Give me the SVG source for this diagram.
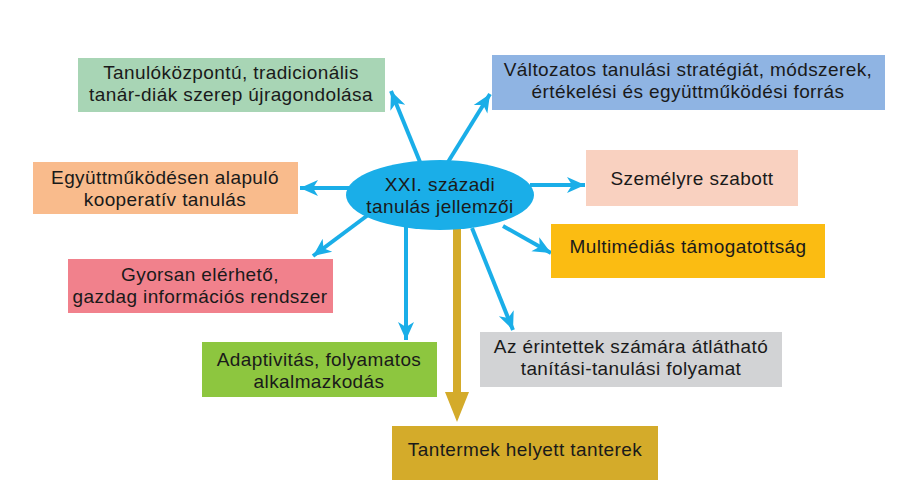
<svg xmlns="http://www.w3.org/2000/svg" width="924" height="493" viewBox="0 0 924 493">
<style>
text{font-family:"Liberation Sans",Arial,sans-serif;font-size:19px;letter-spacing:0.4px;fill:#1a1a1a;text-anchor:middle}
.c{stroke:#1aaee8;stroke-width:4;fill:none}
</style>
<defs>
<marker id="ab" markerUnits="userSpaceOnUse" markerWidth="20" markerHeight="20" viewBox="0 0 20 20" refX="18" refY="10" orient="auto">
<path d="M0,2 L18,10 L0,18 L5,10 Z" fill="#1aaee8"/>
</marker>
</defs>
<rect width="924" height="493" fill="#fff"/>
<g id="connectors">
<line class="c" x1="420" y1="162" x2="391" y2="91" marker-end="url(#ab)"/>
<line class="c" x1="448" y1="162" x2="490" y2="94" marker-end="url(#ab)"/>
<line class="c" x1="350" y1="188" x2="300" y2="188" marker-end="url(#ab)"/>
<line class="c" x1="368" y1="215" x2="313" y2="256" marker-end="url(#ab)"/>
<line class="c" x1="406" y1="226" x2="406" y2="340" marker-end="url(#ab)"/>
<line class="c" x1="472" y1="228" x2="513" y2="330" marker-end="url(#ab)"/>
<line class="c" x1="503" y1="226" x2="551" y2="253" marker-end="url(#ab)"/>
<line class="c" x1="530" y1="185" x2="585" y2="185" marker-end="url(#ab)"/>
<rect x="453" y="227" width="8" height="166" fill="#d4ab2a"/>
<path d="M445,392 L469,392 L457,422 Z" fill="#d4ab2a"/>
</g>
<g id="center">
<ellipse cx="440" cy="195" rx="94" ry="35" fill="#1aaee8"/>
<text x="440" y="191">XXI. századi</text>
<text x="440" y="213">tanulás jellemzői</text>
</g>
<g id="n1">
<rect x="78" y="58" width="307" height="54" fill="#a8d5b5"/>
<text x="231" y="79">Tanulóközpontú, tradicionális</text>
<text x="231" y="101">tanár-diák szerep újragondolása</text>
</g>
<g id="n2">
<rect x="492" y="55" width="393" height="55" fill="#8fb4e3"/>
<text x="688" y="76">Változatos tanulási stratégiát, módszerek,</text>
<text x="688" y="98">értékelési és együttműködési forrás</text>
</g>
<g id="n3">
<rect x="33" y="162" width="265" height="52" fill="#f9bb8c"/>
<text x="165" y="184">Együttműködésen alapuló</text>
<text x="165" y="206">kooperatív tanulás</text>
</g>
<g id="n4">
<rect x="586" y="150" width="212" height="56" fill="#f9d1c0"/>
<text x="692" y="185">Személyre szabott</text>
</g>
<g id="n5">
<rect x="68" y="259" width="265" height="54" fill="#f1818c"/>
<text x="200" y="281">Gyorsan elérhető,</text>
<text x="200" y="303">gazdag információs rendszer</text>
</g>
<g id="n6">
<rect x="551" y="224" width="274" height="54" fill="#fbbc12"/>
<text x="688" y="253">Multimédiás támogatottság</text>
</g>
<g id="n7">
<rect x="202" y="342" width="235" height="55" fill="#8dc63f"/>
<text x="319" y="366">Adaptivitás, folyamatos</text>
<text x="319" y="388">alkalmazkodás</text>
</g>
<g id="n8">
<rect x="480" y="332" width="302" height="55" fill="#d2d3d5"/>
<text x="631" y="353">Az érintettek számára átlátható</text>
<text x="631" y="375">tanítási-tanulási folyamat</text>
</g>
<g id="n9">
<rect x="392" y="426" width="266" height="54" fill="#d4ab2a"/>
<text x="525" y="456">Tantermek helyett tanterek</text>
</g>
</svg>
